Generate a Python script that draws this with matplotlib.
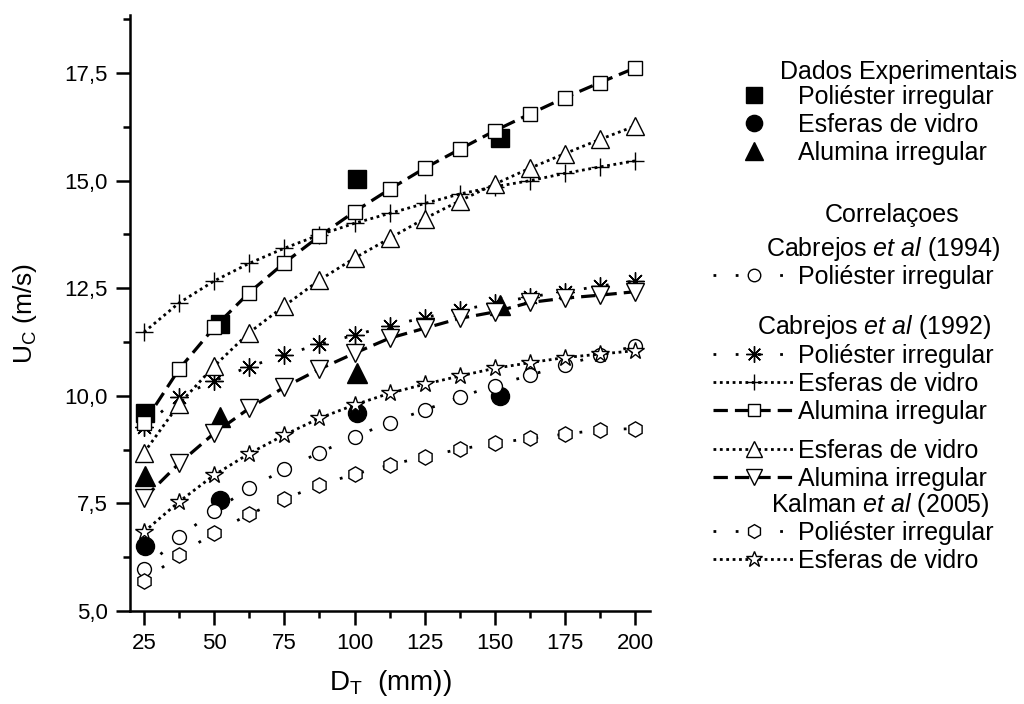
import matplotlib
matplotlib.use('Agg')
import matplotlib.pyplot as plt
from matplotlib.lines import Line2D
from matplotlib.ticker import MultipleLocator, FuncFormatter

plt.rcParams['font.family'] = ['Liberation Sans', 'DejaVu Sans']
plt.rcParams['mathtext.fontset'] = 'custom'
plt.rcParams['mathtext.rm'] = 'Liberation Sans'
plt.rcParams['mathtext.it'] = 'Liberation Sans:italic'

# dados experimentais
exp_dt = [25.4, 52, 101, 152]
exp_poliester = [9.59, 11.67, 15.04, 16.00]
exp_esferas = [6.51, 7.58, 9.59, 9.99]
exp_alumina = [8.14, 9.50, 10.53, 12.10]

# correlacoes
dt = [25, 37.5, 50, 62.5, 75, 87.5, 100, 112.5, 125, 137.5, 150, 162.5, 175, 187.5, 200]
cab94_poliester = [5.97, 6.71, 7.33, 7.85, 8.29, 8.68, 9.05, 9.38, 9.67, 9.97, 10.24, 10.48, 10.72, 10.95, 11.16]
cab92_poliester = [9.28, 9.98, 10.35, 10.68, 10.95, 11.20, 11.41, 11.63, 11.82, 11.99, 12.15, 12.30, 12.42, 12.55, 12.67]
cab92_esferas = [11.48, 12.16, 12.67, 13.08, 13.43, 13.74, 14.01, 14.24, 14.47, 14.69, 14.86, 15.00, 15.17, 15.32, 15.46]
cab92_alumina = [9.37, 10.62, 11.59, 12.40, 13.09, 13.71, 14.28, 14.80, 15.29, 15.73, 16.16, 16.55, 16.93, 17.28, 17.62]
x_esferas = [8.68, 9.81, 10.69, 11.47, 12.09, 12.69, 13.20, 13.66, 14.12, 14.53, 14.92, 15.29, 15.63, 15.96, 16.27]
x_alumina = [7.62, 8.43, 9.13, 9.71, 10.20, 10.62, 10.99, 11.34, 11.57, 11.80, 11.95, 12.17, 12.27, 12.34, 12.42]
kal_poliester = [5.70, 6.30, 6.82, 7.25, 7.60, 7.93, 8.18, 8.39, 8.59, 8.76, 8.90, 9.01, 9.11, 9.21, 9.24]
kal_esferas = [6.84, 7.54, 8.16, 8.66, 9.09, 9.48, 9.79, 10.06, 10.27, 10.46, 10.64, 10.77, 10.89, 10.97, 11.05]

W, H = 1024, 704
fig = plt.figure(figsize=(W / 100, H / 100), dpi=100)
ax = fig.add_axes([130 / W, 1 - 611 / H, 520 / W, 596 / H])

sparse = (0, (1, 7))
dotted = (0, (1, 1.3))
dashed = (0, (4.5, 2.2))

# experimentais (por baixo)
ax.plot(exp_dt, exp_poliester, 's', color='black', ms=13, zorder=2)
ax.plot(exp_dt, exp_esferas, 'o', color='black', ms=13, zorder=2)
ax.plot(exp_dt, exp_alumina, '^', color='black', ms=15, zorder=2)

open_kw = dict(color='black', mfc='white', mec='black', mew=1.0, zorder=3)
l1, = ax.plot(dt, cab94_poliester, ls=sparse, lw=2, marker='o', ms=10, **open_kw)
l2, = ax.plot(dt, cab92_poliester, ls=sparse, lw=2, marker=(8, 2, 0), ms=13, **open_kw)
l3, = ax.plot(dt, cab92_esferas, ls=dotted, lw=2, marker='+', ms=13, **open_kw)
l4, = ax.plot(dt, cab92_alumina, ls=dashed, lw=2.3, marker='s', ms=10, **open_kw)
l5, = ax.plot(dt, x_esferas, ls=dotted, lw=2, marker='^', ms=13, **open_kw)
l6, = ax.plot(dt, x_alumina, ls=dashed, lw=2.3, marker='v', ms=13, **open_kw)
l7, = ax.plot(dt, kal_poliester, ls=sparse, lw=2, marker='h', ms=11, **open_kw)
l8, = ax.plot(dt, kal_esferas, ls=dotted, lw=2, marker='*', ms=13, **open_kw)

ax.set_xlim(20, 205.3)
ax.set_ylim(5, 18.85)
ax.xaxis.set_major_locator(MultipleLocator(25))
ax.xaxis.set_minor_locator(MultipleLocator(12.5))
ax.yaxis.set_major_locator(MultipleLocator(2.5))
ax.yaxis.set_minor_locator(MultipleLocator(1.25))
ax.yaxis.set_major_formatter(FuncFormatter(lambda v, p: f'{v:.1f}'.replace('.', ',')))
for s in ['top', 'right']:
    ax.spines[s].set_visible(False)
for s in ['left', 'bottom']:
    ax.spines[s].set_linewidth(1.8)
ax.tick_params(which='major', direction='out', length=10, width=1.8, labelsize=16, pad=6)
ax.tick_params(which='minor', direction='out', length=5, width=1.8)
ax.set_xlabel(r'D$_\mathregular{T}$  (mm))', fontsize=20, labelpad=10)
ax.set_ylabel(r'U$_\mathregular{C}$ (m/s)', fontsize=19, labelpad=18)

# legenda
fs = 18
leg_kw = dict(loc='upper left', frameon=False, fontsize=fs, handlelength=3.3,
              handletextpad=0.1, labelspacing=0.16, borderpad=0, borderaxespad=0)

exp_h = [Line2D([], [], ls='none', marker='s', color='black', ms=13),
         Line2D([], [], ls='none', marker='o', color='black', ms=13),
         Line2D([], [], ls='none', marker='^', color='black', ms=15)]
legs = [
    (exp_h, ['Poliéster irregular', 'Esferas de vidro', 'Alumina irregular'], 85),
    ([l1], ['Poliéster irregular'], 265),
    ([l2, l3, l4], ['Poliéster irregular', 'Esferas de vidro', 'Alumina irregular'], 344),
    ([l5, l6], ['Esferas de vidro', 'Alumina irregular'], 439),
    ([l7, l8], ['Poliéster irregular', 'Esferas de vidro'], 521),
]
for handles, labels, top in legs:
    lg = fig.legend(handles, labels, bbox_to_anchor=(713 / W, 1 - top / H), **leg_kw)
    for h in lg.legend_handles:
        h.set_markersize(h.get_markersize() * 0.9)

headers = [
    ('Dados Experimentais', 899, 72),
    ('Correlaçoes', 892, 215),
    (r'Cabrejos $\it{et\ al}$ (1994)', 883, 249),
    (r'Cabrejos $\it{et\ al}$ (1992)', 874, 327),
    (r'Kalman $\it{et\ al}$ (2005)', 880, 505),
]
for txt, x, y in headers:
    fig.text(x / W, 1 - y / H, txt, ha='center', va='center', fontsize=fs)

fig.savefig('out.png', dpi=100)
